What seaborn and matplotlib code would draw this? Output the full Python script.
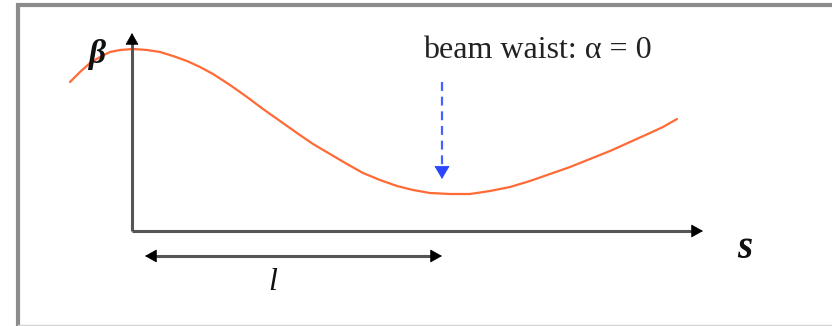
import matplotlib
matplotlib.use("Agg")
import matplotlib.pyplot as plt
from matplotlib.lines import Line2D
import seaborn as sns
import pandas as pd

# beta function along s (origin = axis corner)
s_vals = [-62, -52, -42, -32, -22, -12, 1, 15, 28, 41, 55, 68, 81, 98, 115, 131, 148, 165,
          181, 198, 215, 231, 248, 265, 281, 298, 318, 338, 358, 378, 398, 418, 438, 458,
          478, 498, 518, 531, 545]
beta_vals = [149, 159, 168, 174, 179, 181, 182, 181, 179, 175, 170, 164, 157, 146, 134, 122,
             110, 98, 87, 77, 67, 58, 51, 45, 41, 38, 37, 37, 40, 44, 50, 57, 64, 72,
             80, 89, 98, 104, 112]

waist_s = 310          # position of the beam waist
drift_len = (13, 310)  # extent of the "l" arrow
s_max, beta_max = 571, 198

title_txt = "beam waist: \u03b1 = 0"

sns.set_theme(style="white")
plt.rcParams['font.family'] = ['Liberation Serif', 'DejaVu Serif']

df = pd.DataFrame({"s": s_vals, "beta": beta_vals})

fig = plt.figure(figsize=(8.32, 3.26), dpi=100)
ax = fig.add_axes([0, 0, 1, 1])
ax.set_xlim(-132, 700)
ax.set_ylim(-95, 231)
ax.axis("off")

# frame of the picture (top + left thick gray, faint bottom)
W, H = 832.0, 326.0
fig.add_artist(Line2D([18 / W, 18 / W, 1.0], [0.0, 1 - 5 / H, 1 - 5 / H],
                      transform=fig.transFigure, color="#8c8c8c", lw=3.0,
                      solid_joinstyle="miter"))
fig.add_artist(Line2D([18 / W, 1.0], [0.8 / H, 0.8 / H],
                      transform=fig.transFigure, color="#d4d4d4", lw=1.0))

# beta curve
sns.lineplot(data=df, x="s", y="beta", ax=ax, color="#ff6a35", lw=1.6, sort=False)


def head(tip, frm, color="black", hl=0.75, hw=0.42):
    ax.annotate("", xy=tip, xytext=frm,
                arrowprops=dict(arrowstyle="-|>,head_length=%s,head_width=%s" % (hl, hw),
                                lw=0.6, color=color, shrinkA=0, shrinkB=0,
                                mutation_scale=10))


shaft = dict(color="#555555", lw=2.2, solid_capstyle="butt")

# axes
ax.plot([0, 0], [0, beta_max - 6], **shaft)
ax.plot([0, s_max - 6], [0, 0], **shaft)
head((0, beta_max), (0, beta_max - 8))
head((s_max, 0), (s_max - 8, 0))

# drift length arrow
ax.plot([drift_len[0] + 6, drift_len[1] - 6], [-25, -25], **shaft)
head((drift_len[0], -25), (drift_len[0] + 8, -25))
head((drift_len[1], -25), (drift_len[1] - 8, -25))

# dashed arrow to the waist
ax.plot([waist_s, waist_s], [149, 62], color="#4463ff", lw=1.6,
        ls=(0, (4, 2.6)))
head((waist_s, 52), (waist_s, 62), color="#2a46ff", hl=0.85, hw=0.5)

# labels
ax.text(405, 181, title_txt, ha="center", va="center", fontsize=23, color="#222222")
ax.text(-35, 176, "\u03b2", ha="center", va="center", fontsize=24,
        fontweight="bold", style="italic", color="#111111")
ax.text(613, -17, "s", ha="center", va="center", fontsize=28,
        fontweight="bold", style="italic", color="#111111")
ax.text(141, -52, "l", ha="center", va="center", fontsize=23,
        style="italic", color="#111111")

fig.savefig("out.png", dpi=100)
